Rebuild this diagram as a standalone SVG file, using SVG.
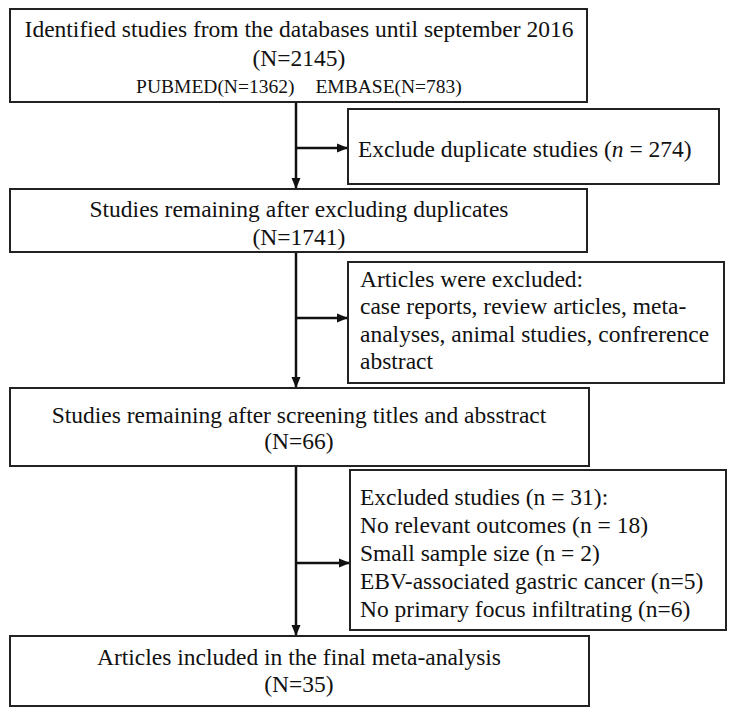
<svg xmlns="http://www.w3.org/2000/svg" width="738" height="716" viewBox="0 0 738 716">
<style>
.box{fill:#fff;stroke:#222;stroke-width:2}
.t{font-family:"Liberation Serif","Times New Roman",serif;font-size:23.5px;fill:#111}
.c{text-anchor:middle}
.s{font-size:19.5px}
.ln{stroke:#111;stroke-width:2.5;fill:none}
</style>
<defs>
<marker id="ah" markerWidth="11" markerHeight="10" refX="10" refY="5" orient="auto" markerUnits="userSpaceOnUse">
<path d="M0,0.5 L11,5 L0,9.5 Z" fill="#111"/>
</marker>
</defs>
<rect width="738" height="716" fill="#fff"/>
<g id="connectors">
<line class="ln" x1="296" y1="102" x2="296" y2="188" marker-end="url(#ah)"/>
<line class="ln" x1="296" y1="252" x2="296" y2="387" marker-end="url(#ah)"/>
<line class="ln" x1="296" y1="466" x2="296" y2="635" marker-end="url(#ah)"/>
<line class="ln" x1="296" y1="148" x2="347" y2="148" marker-end="url(#ah)"/>
<line class="ln" x1="296" y1="318" x2="347" y2="318" marker-end="url(#ah)"/>
<line class="ln" x1="296" y1="563" x2="349" y2="563" marker-end="url(#ah)"/>
</g>
<g id="n1">
<rect class="box" x="10" y="9" width="577" height="93"/>
<text class="t c" x="299" y="37">Identified studies from the databases until september 2016</text>
<text class="t c" x="299" y="66">(N=2145)</text>
<text class="t c s" x="299" y="93">PUBMED(N=1362)<tspan dx="21">EMBASE(N=783)</tspan></text>
</g>
<g id="n2">
<rect class="box" x="348" y="109" width="371" height="75"/>
<text class="t" x="358" y="157">Exclude duplicate studies (<tspan font-style="italic">n</tspan> = 274)</text>
</g>
<g id="n3">
<rect class="box" x="10" y="189" width="577" height="63"/>
<text class="t c" x="299" y="217">Studies remaining after excluding duplicates</text>
<text class="t c" x="299" y="245">(N=1741)</text>
</g>
<g id="n4">
<rect class="box" x="348" y="262" width="376" height="121"/>
<text class="t" x="360" y="287">Articles were excluded:</text>
<text class="t" x="360" y="314">case reports, review articles, meta-</text>
<text class="t" x="360" y="342">analyses, animal studies, confrerence</text>
<text class="t" x="360" y="369">abstract</text>
</g>
<g id="n5">
<rect class="box" x="10" y="388" width="579" height="78"/>
<text class="t c" x="299" y="423">Studies remaining after screening titles and absstract</text>
<text class="t c" x="299" y="449">(N=66)</text>
</g>
<g id="n6">
<rect class="box" x="350" y="470" width="376" height="160"/>
<text class="t" x="360" y="505">Excluded studies (n = 31):</text>
<text class="t" x="360" y="533">No relevant outcomes (n = 18)</text>
<text class="t" x="360" y="561">Small sample size (n = 2)</text>
<text class="t" x="360" y="589">EBV-associated gastric cancer (n=5)</text>
<text class="t" x="360" y="617">No primary focus infiltrating (n=6)</text>
</g>
<g id="n7">
<rect class="box" x="10" y="636" width="579" height="70"/>
<text class="t c" x="299" y="665">Articles included in the final meta-analysis</text>
<text class="t c" x="299" y="692">(N=35)</text>
</g>
</svg>
